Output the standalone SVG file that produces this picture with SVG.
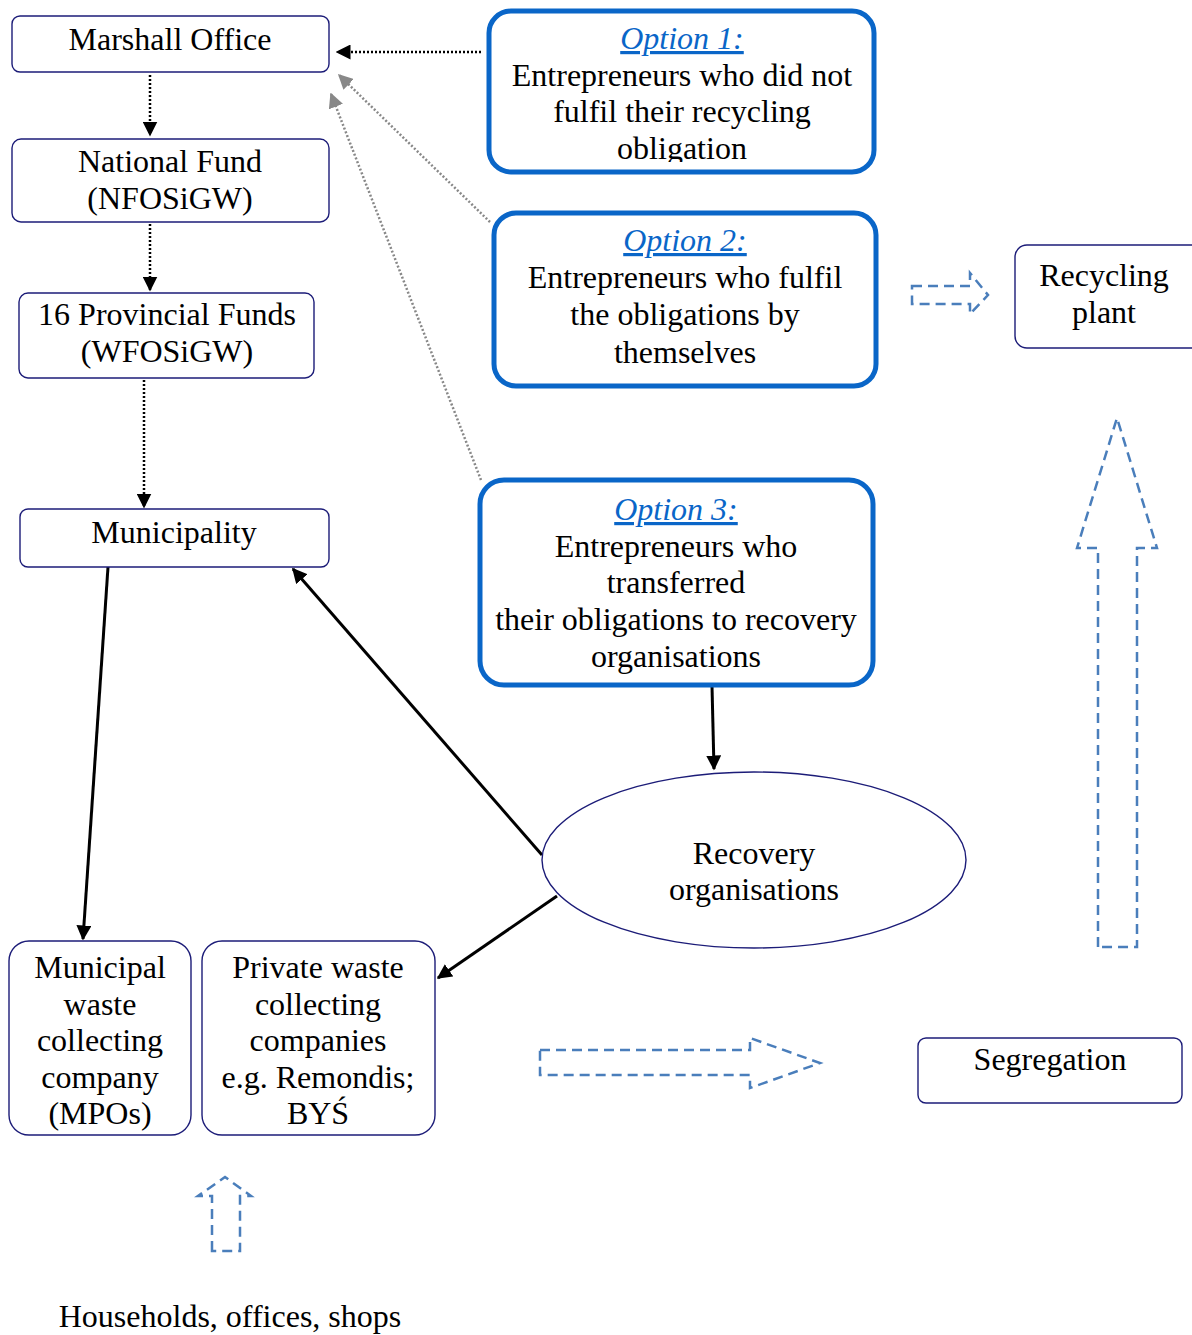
<svg xmlns="http://www.w3.org/2000/svg" width="1192" height="1335" viewBox="0 0 1192 1335">
  <style>
    text { font-family: "Liberation Serif", "Times New Roman", serif; font-size: 32px; fill: #000; text-anchor: middle; }
    .box { fill: #fff; stroke: #1c1c78; stroke-width: 1.4; }
    .opt { fill: #fff; stroke: #0a66c8; stroke-width: 5; }
    .optlabel { fill: #0a66c8; font-style: italic; text-decoration: underline; }
    .dotblack { stroke: #000; stroke-width: 2.5; stroke-dasharray: 2 2; fill: none; }
    .dotgray { stroke: #888; stroke-width: 2.5; stroke-dasharray: 2 2; fill: none; }
    .solid { stroke: #000; stroke-width: 3; fill: none; }
    .flow { fill: none; stroke: #4a7ebb; stroke-width: 2.5; stroke-dasharray: 10 6; }
  </style>
  <defs>
    <marker id="hb" viewBox="0 0 10 10" refX="9" refY="5" markerWidth="15" markerHeight="15" markerUnits="userSpaceOnUse" orient="auto">
      <path d="M0,0 L10,5 L0,10 z" fill="#000"/>
    </marker>
    <marker id="hg" viewBox="0 0 10 10" refX="9" refY="5" markerWidth="15" markerHeight="15" markerUnits="userSpaceOnUse" orient="auto">
      <path d="M0,0 L10,5 L0,10 z" fill="#888"/>
    </marker>
    <clipPath id="opt1clip">
      <rect x="491" y="13" width="381" height="149"/>
    </clipPath>
  </defs>

  <!-- connectors -->
  <g id="connectors">
    <line class="dotblack" x1="150" y1="75" x2="150" y2="135" marker-end="url(#hb)"/>
    <line class="dotblack" x1="150" y1="224" x2="150" y2="290" marker-end="url(#hb)"/>
    <line class="dotblack" x1="144" y1="380" x2="144" y2="507" marker-end="url(#hb)"/>
    <line class="dotblack" x1="481" y1="52" x2="337" y2="52" marker-end="url(#hb)"/>
    <line class="dotgray" x1="490" y1="222" x2="339" y2="75" marker-end="url(#hg)"/>
    <line class="dotgray" x1="481" y1="480" x2="331" y2="94" marker-end="url(#hg)"/>
    <line class="solid" x1="712" y1="686" x2="714" y2="769" marker-end="url(#hb)"/>
    <line class="solid" x1="542" y1="855" x2="293" y2="569" marker-end="url(#hb)"/>
    <line class="solid" x1="557" y1="896" x2="438" y2="978" marker-end="url(#hb)"/>
    <line class="solid" x1="108" y1="567" x2="83" y2="939" marker-end="url(#hb)"/>
  </g>

  <!-- flow arrows -->
  <g id="flow-arrows">
    <path class="flow" d="M912,286 L970,286 L970,273 L988,295 L970,314 L970,304 L912,304 Z"/>
    <path class="flow" d="M1098,947 L1098,548 L1077,548 L1117,418 L1157,548 L1137,548 L1137,947 Z"/>
    <path class="flow" d="M540,1050 L750,1050 L750,1038 L820,1063 L750,1088 L750,1075 L540,1075 Z"/>
    <path class="flow" d="M212,1251 L212,1196 L198,1196 L225,1177 L251,1196 L240,1196 L240,1251 Z"/>
  </g>

  <g id="marshall-office">
    <rect class="box" x="12" y="16" width="317" height="56" rx="8"/>
    <text x="170" y="50">Marshall Office</text>
  </g>

  <g id="national-fund">
    <rect class="box" x="12" y="139" width="317" height="83" rx="9"/>
    <text x="170" y="172">National Fund</text>
    <text x="170" y="209">(NFOSiGW)</text>
  </g>

  <g id="provincial-funds">
    <rect class="box" x="19" y="293" width="295" height="85" rx="9"/>
    <text x="167" y="325">16 Provincial Funds</text>
    <text x="167" y="362">(WFOSiGW)</text>
  </g>

  <g id="municipality">
    <rect class="box" x="20" y="509" width="309" height="58" rx="8"/>
    <text x="174" y="543">Municipality</text>
  </g>

  <g id="option-1">
    <rect class="opt" x="489" y="11" width="385" height="161" rx="22"/>
    <g clip-path="url(#opt1clip)">
      <text class="optlabel" x="682" y="49">Option 1:</text>
      <text x="682" y="86">Entrepreneurs who did not</text>
      <text x="682" y="122">fulfil their recycling</text>
      <text x="682" y="159">obligation</text>
    </g>
  </g>

  <g id="option-2">
    <rect class="opt" x="494" y="213" width="382" height="173" rx="22"/>
    <text class="optlabel" x="685" y="251">Option 2:</text>
    <text x="685" y="288">Entrepreneurs who fulfil</text>
    <text x="685" y="325">the obligations by</text>
    <text x="685" y="363">themselves</text>
  </g>

  <g id="option-3">
    <rect class="opt" x="480" y="480" width="393" height="205" rx="24"/>
    <text class="optlabel" x="676" y="520">Option 3:</text>
    <text x="676" y="557">Entrepreneurs who</text>
    <text x="676" y="593">transferred</text>
    <text x="676" y="630">their obligations to recovery</text>
    <text x="676" y="667">organisations</text>
  </g>

  <g id="recycling-plant">
    <rect class="box" x="1015" y="245" width="190" height="103" rx="12"/>
    <text x="1104" y="286">Recycling</text>
    <text x="1104" y="323">plant</text>
  </g>

  <g id="recovery-organisations">
    <ellipse class="box" cx="754" cy="860" rx="212" ry="88"/>
    <text x="754" y="864">Recovery</text>
    <text x="754" y="900">organisations</text>
  </g>

  <g id="municipal-waste-company">
    <rect class="box" x="9" y="941" width="182" height="194" rx="20"/>
    <text x="100" y="978">Municipal</text>
    <text x="100" y="1015">waste</text>
    <text x="100" y="1051">collecting</text>
    <text x="100" y="1088">company</text>
    <text x="100" y="1124">(MPOs)</text>
  </g>

  <g id="private-waste-companies">
    <rect class="box" x="202" y="941" width="233" height="194" rx="20"/>
    <text x="318" y="978">Private waste</text>
    <text x="318" y="1015">collecting</text>
    <text x="318" y="1051">companies</text>
    <text x="318" y="1088">e.g. Remondis;</text>
    <text x="318" y="1124">BYŚ</text>
  </g>

  <g id="segregation">
    <rect class="box" x="918" y="1038" width="264" height="65" rx="8"/>
    <text x="1050" y="1070">Segregation</text>
  </g>

  <g id="households">
    <text x="230" y="1327">Households, offices, shops</text>
  </g>
</svg>
